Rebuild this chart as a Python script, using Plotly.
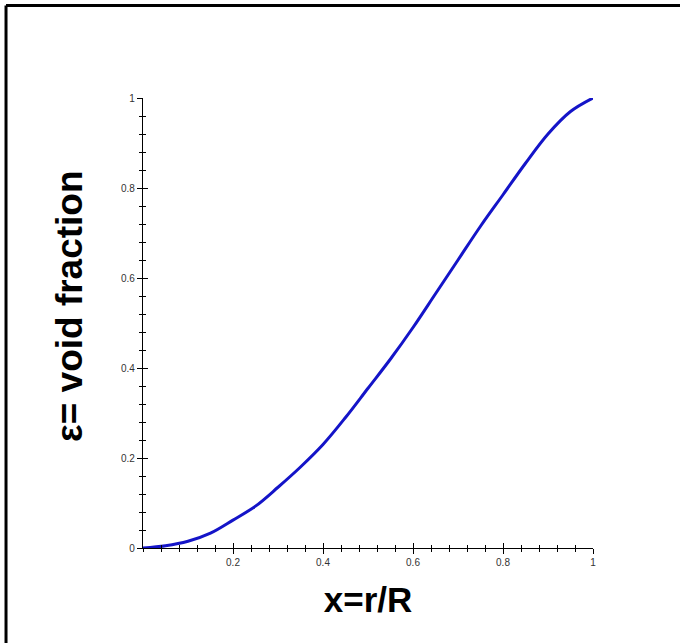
import plotly.graph_objects as go

# Data
x_vals = [0.0, 0.05, 0.1, 0.15, 0.2, 0.25, 0.3, 0.35, 0.4, 0.45, 0.5,
          0.55, 0.6, 0.65, 0.7, 0.75, 0.8, 0.85, 0.9, 0.95, 1.0]
eps_vals = [0.0, 0.005, 0.015, 0.033, 0.062, 0.093, 0.135, 0.18, 0.23, 0.29, 0.355,
            0.42, 0.49, 0.565, 0.64, 0.715, 0.785, 0.855, 0.92, 0.97, 1.0]

x_tickvals = [0.2, 0.4, 0.6, 0.8, 1.0]
x_ticktext = ["0.2", "0.4", "0.6", "0.8", "1"]
y_tickvals = [0.0, 0.2, 0.4, 0.6, 0.8, 1.0]
y_ticktext = ["0", "0.2", "0.4", "0.6", "0.8", "1"]

x_title = "x=r/R"
y_title = "ε= void fraction"

fig = go.Figure()
fig.add_trace(go.Scatter(x=x_vals, y=eps_vals, mode="lines",
                         line=dict(color="#1414c8", width=3, shape="spline"),
                         cliponaxis=False, showlegend=False, hoverinfo="skip"))

tickfont = dict(family="Arial, Liberation Sans, sans-serif", size=10, color="#333333")
titlefont = dict(family="Arial, Liberation Sans, sans-serif", size=35, color="black")

common = dict(range=[0, 1], showgrid=False, zeroline=False, showline=True,
              linecolor="black", linewidth=1.2, ticklen=5, tickwidth=1,
              tickcolor="black", fixedrange=True)

fig.update_layout(
    width=680, height=643,
    margin=dict(l=143, r=87, t=98, b=95),
    paper_bgcolor="white", plot_bgcolor="white",
    xaxis=dict(**common, ticks="outside", tickvals=x_tickvals, ticktext=x_ticktext,
               tickfont=tickfont, anchor="y",
               minor=dict(dtick=0.04, tick0=0, ticks="outside", ticklen=3,
                          tickcolor="black", tickwidth=1),
               title=dict(text="<b>" + x_title + "</b>", font=titlefont, standoff=20)),
    yaxis=dict(**common, ticks="outside", tickvals=y_tickvals, ticktext=y_ticktext,
               tickfont=tickfont, anchor="x",
               minor=dict(dtick=0.04, tick0=0, ticks="outside", ticklen=3,
                          tickcolor="black", tickwidth=1)),
    xaxis2=dict(**common, overlaying="x", anchor="y", side="bottom", ticks="inside",
                tickvals=x_tickvals, showticklabels=False,
                minor=dict(dtick=0.04, tick0=0, ticks="inside", ticklen=3,
                           tickcolor="black", tickwidth=1)),
    yaxis2=dict(**common, overlaying="y", anchor="x", side="left", ticks="inside",
                tickvals=y_tickvals, showticklabels=False,
                minor=dict(dtick=0.04, tick0=0, ticks="inside", ticklen=3,
                           tickcolor="black", tickwidth=1)),
    annotations=[
        dict(text="<b>" + y_title + "</b>", xref="paper", yref="paper",
             x=-0.162, y=0.536, textangle=-90, showarrow=False,
             xanchor="center", yanchor="middle",
             font=dict(family="Arial, Liberation Sans, sans-serif", size=37, color="black")),
    ],
    shapes=[
        dict(type="line", xref="paper", yref="paper", x0=-0.3044, x1=1.3,
             y0=1.2056, y1=1.2056, line=dict(color="black", width=3)),
        dict(type="line", xref="paper", yref="paper", x0=-0.3044, x1=-0.3044,
             y0=1.2056, y1=-0.3, line=dict(color="black", width=3)),
    ],
)
# invisible trace to activate overlay axes
fig.add_trace(go.Scatter(x=[None], y=[None], xaxis="x2", yaxis="y2",
                         showlegend=False, hoverinfo="skip"))

fig.write_html("out.html", config={"displayModeBar": False},
               post_script="document.body.style.margin='0px';document.body.style.overflow='hidden';")
